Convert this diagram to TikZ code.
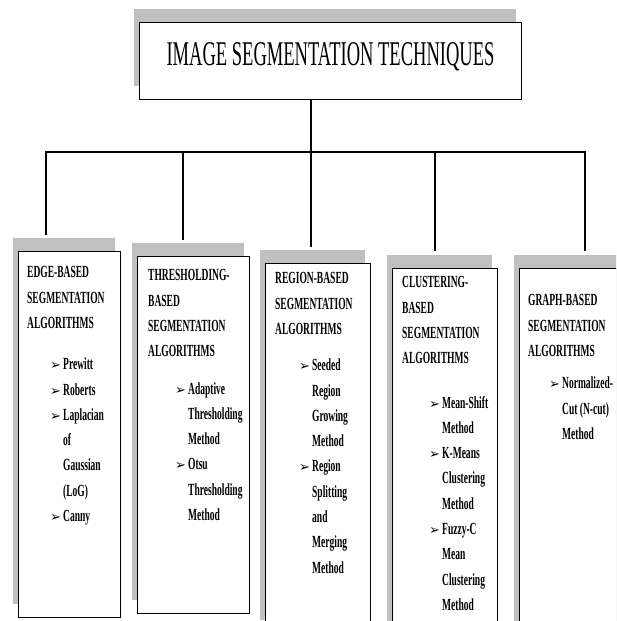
\documentclass[tikz,border=0pt]{standalone}
\usepackage{fontspec}
\setmainfont{Liberation Serif}
\newfontfamily\titlefont{Liberation Serif}[FakeStretch=0.534]
\newfontfamily\boxfont{Liberation Serif}[FakeStretch=0.56]
\newfontfamily\bulfont{DejaVu Sans}
\usetikzlibrary{shadows,calc}
\definecolor{shadowgray}{RGB}{192,192,192}
\newcommand{\bul}{{\bulfont\fontsize{13}{13}\selectfont ➢}}
\newcommand{\bitem}[2]{\hspace*{#1}\makebox[13pt][l]{\bul}#2}
\newcommand{\citem}[2]{\hspace*{#1}\hspace*{13pt}#2}
\tikzset{
	catbox/.style={draw,line width=1pt,fill=white,anchor=north west,inner sep=0pt,
		general shadow={fill=shadowgray,shadow xshift=-6pt,shadow yshift=14pt}},
	boxtxt/.style={anchor=north west,inner sep=0pt,align=left,
		font=\boxfont\bfseries\fontsize{17}{25.3}\selectfont},
	conn/.style={line width=1.4pt},
	bar/.style={line width=2.6pt}
}
\begin{document}
\begin{tikzpicture}[x=1pt,y=-1pt]
	\useasboundingbox (0,0) rectangle (616,621);
	\clip (0,0) rectangle (616,621);
	\node[catbox,line width=1.2pt,minimum width=382pt,minimum height=77pt] (title) at (139,22) {};
	\node[anchor=base,inner sep=0pt,font=\titlefont\fontsize{34.7}{36}\selectfont] (titletxt) at (330.5,65.5) {IMAGE SEGMENTATION TECHNIQUES};
	\node[catbox,minimum width=102pt,minimum height=366pt] (edge) at (18,251) {};
	\node[catbox,minimum width=112pt,minimum height=357pt] (thresh) at (137,256) {};
	\node[catbox,minimum width=105pt,minimum height=370pt] (region) at (265,263) {};
	\node[catbox,minimum width=105pt,minimum height=370pt] (clust) at (392,268) {};
	\node[catbox,minimum width=105pt,minimum height=370pt] (graph) at (519,268) {};
	\coordinate (j1) at (46,152);
	\coordinate (j2) at (183,152);
	\coordinate (j3) at (311,152);
	\coordinate (j4) at (435,152);
	\coordinate (j5) at (585,152);
	\draw[conn] (title.south -| j3) -- (j3);
	\draw[bar] ([xshift=-0.7pt]j1) -- ([xshift=0.7pt]j5);
	\draw[conn] (j1) -- ($(j1 |- edge.north)+(0,-16)$);
	\draw[conn] (j2) -- ($(j2 |- thresh.north)+(0,-16)$);
	\draw[conn] (j3) -- ($(j3 |- region.north)+(0,-16)$);
	\draw[conn] (j4) -- ($(j4 |- clust.north)+(0,-17)$);
	\draw[conn] (j5) -- ($(j5 |- graph.north)+(0,-17)$);
	\node[boxtxt] (edgetxt) at (27,266.4) {EDGE-BASED\\SEGMENTATION\\ALGORITHMS\\[16pt]
		\bitem{23pt}{Prewitt}\\ \bitem{23pt}{Roberts}\\ \bitem{23pt}{Laplacian}\\
		\citem{23pt}{of}\\ \citem{23pt}{Gaussian}\\ \citem{23pt}{(LoG)}\\ \bitem{23pt}{Canny}};
	\node[boxtxt] (threshtxt) at (148,269.4) {THRESHOLDING-\\BASED\\SEGMENTATION\\ALGORITHMS\\[12pt]
		\bitem{27pt}{Adaptive}\\ \citem{27pt}{Thresholding}\\ \citem{27pt}{Method}\\
		\bitem{27pt}{Otsu}\\ \citem{27pt}{Thresholding}\\ \citem{27pt}{Method}};
	\node[boxtxt] (regiontxt) at (275,272.4) {REGION-BASED\\SEGMENTATION\\ALGORITHMS\\[11pt]
		\bitem{24pt}{Seeded}\\ \citem{24pt}{Region}\\ \citem{24pt}{Growing}\\ \citem{24pt}{Method}\\
		\bitem{24pt}{Region}\\ \citem{24pt}{Splitting}\\ \citem{24pt}{and}\\ \citem{24pt}{Merging}\\
		\citem{24pt}{Method}};
	\node[boxtxt] (clusttxt) at (402,276.4) {CLUSTERING-\\BASED\\SEGMENTATION\\ALGORITHMS\\[19pt]
		\bitem{27pt}{Mean-Shift}\\ \citem{27pt}{Method}\\ \bitem{27pt}{K-Means}\\ \citem{27pt}{Clustering}\\
		\citem{27pt}{Method}\\ \bitem{27pt}{Fuzzy-C}\\ \citem{27pt}{Mean}\\ \citem{27pt}{Clustering}\\
		\citem{27pt}{Method}};
	\node[boxtxt] (graphtxt) at (528,294.4) {GRAPH-BASED\\SEGMENTATION\\ALGORITHMS\\[7pt]
		\bitem{21pt}{Normalized-}\\ \citem{21pt}{Cut (N-cut)}\\ \citem{21pt}{Method}};
\end{tikzpicture}
\end{document}
